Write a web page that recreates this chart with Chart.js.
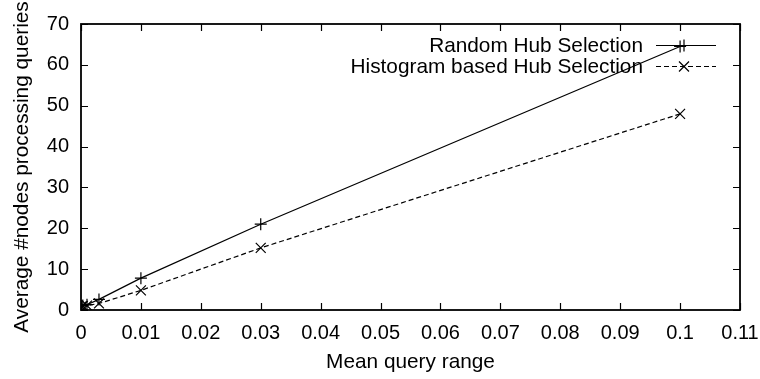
<!DOCTYPE html>
<html>
<head>
<meta charset="utf-8">
<script src="https://cdn.jsdelivr.net/npm/chart.js@4/dist/chart.umd.min.js"></script>
<style>
  html, body { margin: 0; padding: 0; background: #fff; }
  #wrap { width: 760px; height: 379px; }
</style>
</head>
<body>
<div id="wrap"><canvas id="chart"></canvas></div>
<script>
// 数据
const queryRange = [0.0001, 0.0003, 0.001, 0.003, 0.01, 0.03, 0.1];
const randomHub = [1.0, 1.1, 1.3, 2.6, 7.8, 21.0, 64.5];
const histogramHub = [0.9, 1.0, 1.1, 1.6, 4.8, 15.2, 48.0];
const seriesNames = ['Random Hub Selection', 'Histogram based Hub Selection'];

const FONT = '"Liberation Sans", Arial, sans-serif';
const FS = 20;     // 刻度字号
const FS_T = 20.8; // 标题/图例字号

// 刻度向内画, 四边都有 (gnuplot 风格) + 图内图例
const gnuplotFrame = {
  id: 'gnuplotFrame',
  afterDraw(chart) {
    const { ctx, chartArea: a, scales: { x, y } } = chart;
    ctx.save();
    ctx.strokeStyle = '#000';
    ctx.lineWidth = 1.2;
    ctx.setLineDash([]);
    const len = 7;
    x.ticks.forEach(t => {
      const px = Math.round(x.getPixelForValue(t.value)) + 0.5;
      ctx.beginPath();
      ctx.moveTo(px, a.bottom); ctx.lineTo(px, a.bottom - len);
      ctx.moveTo(px, a.top); ctx.lineTo(px, a.top + len);
      ctx.stroke();
    });
    y.ticks.forEach(t => {
      const py = Math.round(y.getPixelForValue(t.value)) + 0.5;
      ctx.beginPath();
      ctx.moveTo(a.left, py); ctx.lineTo(a.left + len, py);
      ctx.moveTo(a.right, py); ctx.lineTo(a.right - len, py);
      ctx.stroke();
    });
    ctx.lineWidth = 1.8;
    ctx.strokeRect(a.left, a.top, a.right - a.left, a.bottom - a.top);

    // legend
    ctx.font = FS_T + 'px ' + FONT;
    ctx.fillStyle = '#000';
    ctx.textAlign = 'right';
    ctx.textBaseline = 'middle';
    const textRight = a.right - 97;
    const lineL = a.right - 84, lineR = a.right - 24;
    const rows = [a.top + 21, a.top + 42];
    chart.data.datasets.forEach((ds, i) => {
      const ry = rows[i] + 0.5;
      ctx.fillText(seriesNames[i], textRight, rows[i] + 1);
      ctx.lineWidth = 1.2;
      ctx.setLineDash(ds.borderDash || []);
      ctx.beginPath();
      ctx.moveTo(lineL, ry); ctx.lineTo(lineR, ry);
      ctx.stroke();
      ctx.setLineDash([]);
      const cx = (lineL + lineR) / 2 - 2;
      ctx.beginPath();
      if (ds.pointStyle === 'cross') {
        const r = 6;
        ctx.moveTo(cx - r, ry); ctx.lineTo(cx + r, ry);
        ctx.moveTo(cx, ry - r); ctx.lineTo(cx, ry + r);
      } else {
        const d = 5;
        ctx.moveTo(cx - d, ry - d); ctx.lineTo(cx + d, ry + d);
        ctx.moveTo(cx + d, ry - d); ctx.lineTo(cx - d, ry + d);
      }
      ctx.stroke();
    });
    ctx.restore();
  }
};

const ctx = document.getElementById('chart').getContext('2d');
const chart = new Chart(ctx, {
  type: 'scatter',
  data: {
    datasets: [
      {
        label: seriesNames[0],
        data: queryRange.map((x, i) => ({ x, y: randomHub[i] })),
        showLine: true,
        borderColor: '#000',
        backgroundColor: '#000',
        borderWidth: 1.2,
        pointStyle: 'cross',
        pointRadius: 6,
        pointBorderWidth: 1.2,
        tension: 0
      },
      {
        label: seriesNames[1],
        data: queryRange.map((x, i) => ({ x, y: histogramHub[i] })),
        showLine: true,
        borderColor: '#000',
        backgroundColor: '#000',
        borderWidth: 1.2,
        borderDash: [5, 3],
        pointStyle: 'crossRot',
        pointRadius: 7,
        pointBorderWidth: 1.2,
        tension: 0
      }
    ]
  },
  options: {
    responsive: true,
    maintainAspectRatio: false,
    animation: false,
    layout: { padding: { top: 22, right: 0, left: 0, bottom: 0 } },
    plugins: { legend: { display: false }, tooltip: { enabled: false } },
    scales: {
      x: {
        type: 'linear',
        min: 0,
        max: 0.11,
        grid: { display: false, drawTicks: false },
        border: { display: false },
        ticks: {
          stepSize: 0.01,
          color: '#000',
          font: { family: FONT, size: FS },
          padding: 11,
          maxRotation: 0,
          callback: v => String(Math.round(v * 100) / 100)
        },
        title: {
          display: true,
          text: 'Mean query range',
          color: '#000',
          font: { family: FONT, size: FS_T },
          padding: { top: 0 }
        },
        afterFit(s) { s.height = 69; s.paddingRight = 20; }
      },
      y: {
        min: 0,
        max: 70,
        grid: { display: false, drawTicks: false },
        border: { display: false },
        ticks: {
          stepSize: 10,
          color: '#000',
          font: { family: FONT, size: FS },
          padding: 12
        },
        title: {
          display: true,
          text: 'Average #nodes processing queries',
          color: '#000',
          font: { family: FONT, size: FS_T },
          padding: { top: 10, bottom: 0 }
        },
        afterFit(s) { s.width = 81; }
      }
    }
  },
  plugins: [gnuplotFrame]
});
</script>
</body>
</html>
